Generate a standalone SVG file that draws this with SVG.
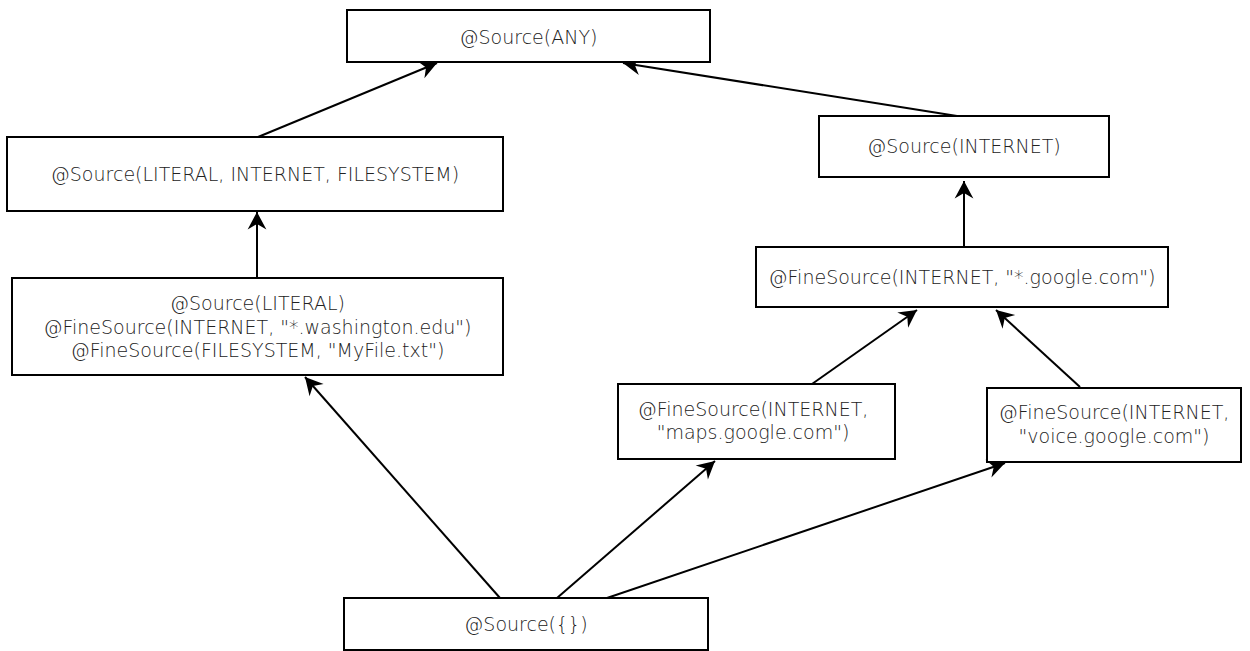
<svg xmlns="http://www.w3.org/2000/svg" width="1250" height="651" viewBox="0 0 1250 651">
<style>
.box{fill:#fff;stroke:#000;stroke-width:2}
.lbl{font-family:"DejaVu Sans",sans-serif;font-weight:200;font-size:19px;fill:#222;text-anchor:middle;dominant-baseline:central}
.edge{stroke:#000;stroke-width:2;fill:none;marker-end:url(#ah)}
</style>
<defs>
<marker id="ah" markerUnits="userSpaceOnUse" markerWidth="20" markerHeight="20" viewBox="-15 -8 16 16" refX="0" refY="0" orient="auto">
<path d="M0,0 L-14,-7.5 L-9.5,0 L-14,7.5 Z" fill="#000"/>
</marker>
</defs>
<rect width="1250" height="651" fill="#fff"/>
<g id="edges">
<line class="edge" x1="258" y1="137" x2="437" y2="63"/>
<line class="edge" x1="957" y1="116" x2="623" y2="63"/>
<line class="edge" x1="257" y1="278" x2="257" y2="212"/>
<line class="edge" x1="964" y1="247" x2="964" y2="181"/>
<line class="edge" x1="812" y1="384" x2="917" y2="310"/>
<line class="edge" x1="1080" y1="387" x2="996" y2="310"/>
<line class="edge" x1="500" y1="598" x2="305" y2="377"/>
<line class="edge" x1="557" y1="598" x2="715" y2="461"/>
<line class="edge" x1="607" y1="598" x2="1005" y2="463"/>
</g>
<g id="n-any">
<rect class="box" x="347" y="10" width="363" height="52"/>
<text class="lbl" x="528.5" y="37">@Source(ANY)</text>
</g>
<g id="n-lif">
<rect class="box" x="7" y="137" width="496" height="74"/>
<text class="lbl" x="255" y="174">@Source(LITERAL, INTERNET, FILESYSTEM)</text>
</g>
<g id="n-literal">
<rect class="box" x="12" y="278" width="491" height="97"/>
<text class="lbl" x="257.5" y="303">@Source(LITERAL)</text>
<text class="lbl" x="257.5" y="327">@FineSource(INTERNET, "*.washington.edu")</text>
<text class="lbl" x="257.5" y="350">@FineSource(FILESYSTEM, "MyFile.txt")</text>
</g>
<g id="n-internet">
<rect class="box" x="819" y="116" width="290" height="61"/>
<text class="lbl" x="964" y="146">@Source(INTERNET)</text>
</g>
<g id="n-google">
<rect class="box" x="756" y="247" width="412" height="60"/>
<text class="lbl" x="962" y="277">@FineSource(INTERNET, "*.google.com")</text>
</g>
<g id="n-maps">
<rect class="box" x="618" y="384" width="277" height="75"/>
<text class="lbl" x="753" y="409">@FineSource(INTERNET,</text>
<text class="lbl" x="753" y="432">"maps.google.com")</text>
</g>
<g id="n-voice">
<rect class="box" x="987" y="388" width="254" height="74"/>
<text class="lbl" x="1114" y="412">@FineSource(INTERNET,</text>
<text class="lbl" x="1114" y="436">"voice.google.com")</text>
</g>
<g id="n-empty">
<rect class="box" x="344" y="598" width="364" height="52"/>
<text class="lbl" x="526" y="624">@Source({})</text>
</g>
</svg>
